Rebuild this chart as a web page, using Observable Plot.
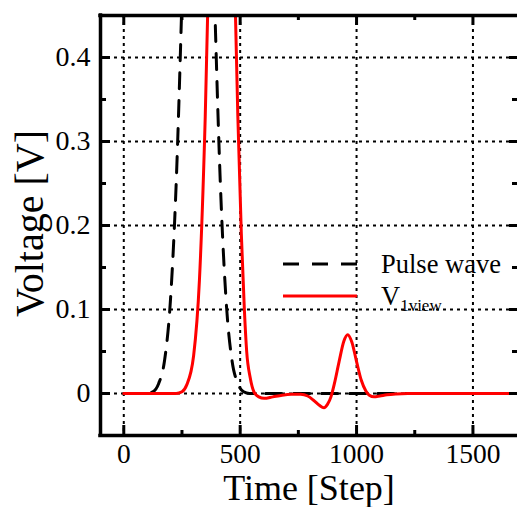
<!DOCTYPE html>
<html>
<head>
<meta charset="utf-8">
<script src="https://cdn.jsdelivr.net/npm/d3@7"></script>
<script src="https://cdn.jsdelivr.net/npm/@observablehq/plot@0.6"></script>
<style>
  html, body { margin: 0; padding: 0; background: white; }
  #wrap { position: relative; width: 517px; height: 507px; overflow: hidden; }
  #wrap svg, #wrap svg text { font-family: "Liberation Serif", "Times New Roman", serif !important; }
  #legend { position: absolute; left: 0; top: 0; pointer-events: none; }
</style>
</head>
<body>
<div id="wrap"></div>
<script>
// ---- data ----
const xMajor = [0, 500, 1000, 1500];
const xMinor = [250, 750, 1250];
const yMajor = [0, 0.1, 0.2, 0.3, 0.4];
const yMinor = [0.05, 0.15, 0.25, 0.35];
const yTickLabels = ["0", "0.1", "0.2", "0.3", "0.4"];
const xTitle = "Time [Step]";
const yTitle = "Voltage [V]";
const seriesNames = ["Pulse wave", "V", "1view"];

const pulseStep = [0, 100, 125, 150, 175, 200, 225, 250, 275, 300, 320, 340, 365, 390, 415, 440, 465, 490, 515, 540, 1700];
const pulseV    = [0, 0, 0.002, 0.012, 0.039, 0.109, 0.249, 0.47, 0.73, 0.94, 1.0, 0.94, 0.73, 0.47, 0.249, 0.109, 0.039, 0.012, 0.002, 0, 0];

const viewStep = [0, 225, 250, 270, 300, 325, 350, 375, 400, 420, 440, 465, 490, 505, 518, 528, 543, 560, 580, 603, 640, 680, 720, 760, 790, 815, 840, 860, 875, 890, 905, 925, 945, 962, 980, 1000, 1020, 1040, 1055, 1075, 1100, 1130, 1170, 1220, 1700];
const viewV    = [0, 0, 0.002, 0.01, 0.045, 0.135, 0.33, 0.63, 0.91, 1.0, 0.91, 0.63, 0.33, 0.19, 0.1, 0.05, 0.019, 0.0015, -0.004, -0.0058, -0.004, -0.002, -0.001, -0.001, -0.003, -0.008, -0.014, -0.017, -0.013, -0.004, 0.012, 0.038, 0.062, 0.070, 0.061, 0.038, 0.016, 0.003, -0.002, -0.004, -0.003, -0.0015, -0.0005, 0, 0];

const pulse = pulseStep.map((s, i) => ({step: s, v: pulseV[i]}));
const view = viewStep.map((s, i) => ({step: s, v: viewV[i]}));

const FONT = "Liberation Serif, Times New Roman, serif";

const chart = Plot.plot({
  width: 517,
  height: 507,
  marginTop: 15,
  marginBottom: 72,
  marginLeft: 100,
  marginRight: 0,
  x: {domain: [-100, 1700], range: [100, 519]},
  y: {domain: [-0.05, 0.45], range: [435, 15]},
  style: {fontFamily: FONT, background: "white", color: "black"},
  marks: [
    // dotted grid
    Plot.ruleX(xMajor, {x: d => d, stroke: "black", strokeWidth: 2, strokeDasharray: "3,4"}),
    Plot.ruleY(yMajor, {y: d => d, stroke: "black", strokeWidth: 2, strokeDasharray: "3,4"}),
    // series
    Plot.line(pulse, {x: "step", y: "v", stroke: "black", strokeWidth: 3, strokeDasharray: "16,12", curve: "monotone-x", clip: true}),
    Plot.line(view, {x: "step", y: "v", stroke: "#ff0000", strokeWidth: 3, curve: "monotone-x", clip: true}),
    // inward ticks (bottom / top)
    Plot.tickX(xMajor, {x: d => d, insetTop: 410, stroke: "black", strokeWidth: 3}),
    Plot.tickX(xMajor, {x: d => d, insetBottom: 410, stroke: "black", strokeWidth: 3}),
    Plot.tickX(xMinor, {x: d => d, insetTop: 415, stroke: "black", strokeWidth: 3}),
    Plot.tickX(xMinor, {x: d => d, insetBottom: 415, stroke: "black", strokeWidth: 3}),
    // inward ticks (left / right)
    Plot.tickY(yMajor, {y: d => d, insetRight: 407, stroke: "black", strokeWidth: 3}),
    Plot.tickY(yMajor, {y: d => d, insetLeft: 409, stroke: "black", strokeWidth: 3}),
    Plot.tickY(yMinor, {y: d => d, insetRight: 411, stroke: "black", strokeWidth: 3}),
    Plot.tickY(yMinor, {y: d => d, insetLeft: 412, stroke: "black", strokeWidth: 3}),
    // frame
    Plot.ruleY([-0.05], {y: d => d, stroke: "black", strokeWidth: 3.5, strokeLinecap: "square"}),
    Plot.ruleY([0.45], {y: d => d, stroke: "black", strokeWidth: 3.5, strokeLinecap: "square"}),
    Plot.ruleX([-100], {x: d => d, stroke: "black", strokeWidth: 3.5, strokeLinecap: "square"}),
    // tick labels
    Plot.axisX(xMajor, {anchor: "bottom", tickSize: 0, tickPadding: 8, fontSize: 27.5, fontFamily: FONT, label: null, tickFormat: d => String(d)}),
    Plot.axisY(yMajor, {anchor: "left", tickSize: 0, tickPadding: 10, fontSize: 28, fontFamily: FONT, label: null, tickFormat: d => yTickLabels[yMajor.indexOf(d)]}),
    // axis titles
    Plot.text([xTitle], {text: d => d, frameAnchor: "bottom", textAnchor: "middle", dy: 64, lineAnchor: "bottom", fontSize: 36, fontFamily: FONT}),
    Plot.text([yTitle], {text: d => d, frameAnchor: "left", textAnchor: "middle", rotate: -90, dx: -58, dy: -2, lineAnchor: "bottom", fontSize: 40, fontFamily: FONT})
  ]
});

const wrap = document.getElementById("wrap");
wrap.appendChild(chart);

// legend overlay
const ns = "http://www.w3.org/2000/svg";
const lg = document.createElementNS(ns, "svg");
lg.setAttribute("id", "legend");
lg.setAttribute("width", 517);
lg.setAttribute("height", 507);
lg.innerHTML = `
  <line x1="283" y1="264" x2="357" y2="264" stroke="black" stroke-width="3" stroke-dasharray="16,13"/>
  <line x1="283" y1="296" x2="357" y2="296" stroke="#ff0000" stroke-width="3"/>
  <text x="381" y="273" font-family="${FONT}" font-size="26.5" fill="black">${seriesNames[0]}</text>
  <text x="381" y="305" font-family="${FONT}" font-size="26.5" fill="black">${seriesNames[1]}<tspan font-size="17" dy="6">${seriesNames[2]}</tspan></text>
`;
wrap.appendChild(lg);
</script>
</body>
</html>
